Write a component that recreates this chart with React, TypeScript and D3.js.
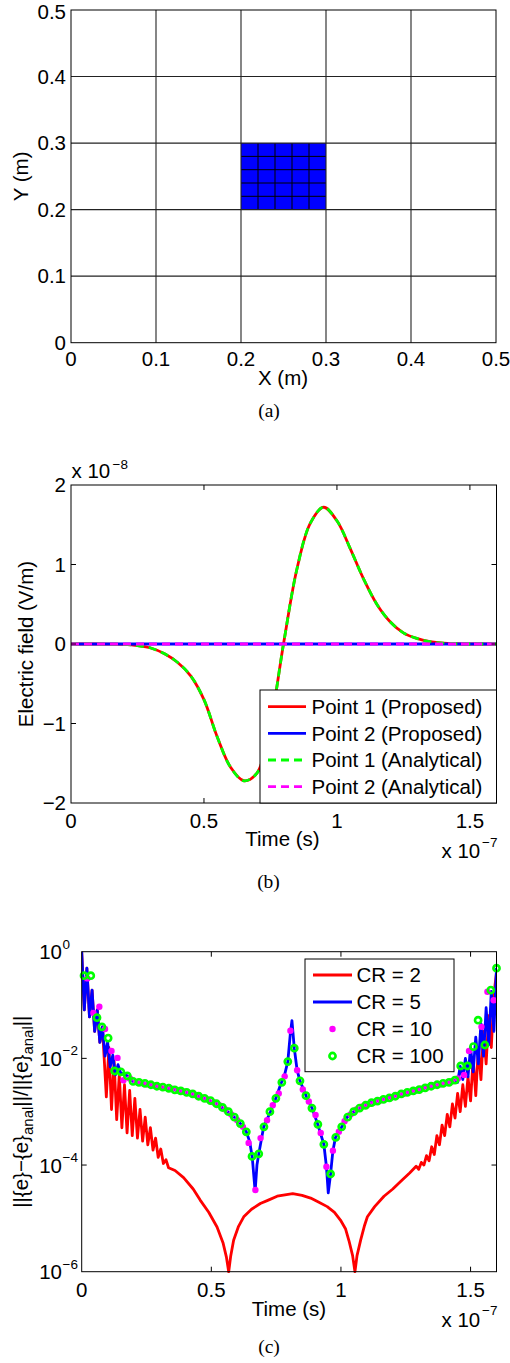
import React from 'react';
import * as d3 from 'd3';

// ---------------- (a) mesh ----------------
const meshTickValues = [0, 0.1, 0.2, 0.3, 0.4, 0.5];
const meshGridLines = [0.1, 0.2, 0.3, 0.4];
const fineMeshX = [0.2, 0.22, 0.24, 0.26, 0.28, 0.3];
const fineMeshY = [0.2, 0.22, 0.24, 0.26, 0.28, 0.3];

// ---------------- (b) electric field (time in 1e-7 s, field in 1e-8 V/m) ----------------
const fieldTime = [0, 0.05, 0.1, 0.15, 0.2, 0.25, 0.3, 0.35, 0.4, 0.45, 0.5, 0.55, 0.6, 0.65, 0.7, 0.75, 0.8,
  0.85, 0.9, 0.95, 1.0, 1.05, 1.1, 1.15, 1.2, 1.25, 1.3, 1.35, 1.4, 1.45, 1.5, 1.55, 1.6];
const point1Proposed = [0, 0, 0, -0.002, -0.005, -0.02, -0.05, -0.12, -0.23, -0.4, -0.7, -1.17, -1.55, -1.72, -1.62, -1.0, 0.02,
  0.95, 1.52, 1.72, 1.55, 1.2, 0.82, 0.5, 0.28, 0.14, 0.07, 0.03, 0.01, 0.003, 0, 0, 0];
const point2Proposed = [0, 0, 0, 0, 0, 0, 0, 0, 0, 0, 0, 0, 0, 0, 0, 0, 0,
  0, 0, 0, 0, 0, 0, 0, 0, 0, 0, 0, 0, 0, 0, 0, 0];
const point1Analytical = [0, 0, 0, -0.002, -0.005, -0.02, -0.05, -0.12, -0.23, -0.4, -0.7, -1.17, -1.55, -1.72, -1.62, -1.0, 0.02,
  0.95, 1.52, 1.72, 1.55, 1.2, 0.82, 0.5, 0.28, 0.14, 0.07, 0.03, 0.01, 0.003, 0, 0, 0];
const point2Analytical = [0, 0, 0, 0, 0, 0, 0, 0, 0, 0, 0, 0, 0, 0, 0, 0, 0,
  0, 0, 0, 0, 0, 0, 0, 0, 0, 0, 0, 0, 0, 0, 0, 0];
const fieldTimeTicks = [0, 0.5, 1, 1.5];
const fieldValueTicks = [-2, -1, 0, 1, 2];
const fieldLegend = ['Point 1 (Proposed)', 'Point 2 (Proposed)', 'Point 1 (Analytical)', 'Point 2 (Analytical)'];

// ---------------- (c) relative error (time in 1e-7 s) ----------------
const cr2Time = [0, 0.01, 0.02, 0.03, 0.04, 0.05, 0.06, 0.07, 0.08, 0.095, 0.105, 0.115, 0.125, 0.135, 0.145, 0.155,
  0.165, 0.175, 0.185, 0.195, 0.205, 0.215, 0.225, 0.235, 0.245, 0.255, 0.265, 0.275, 0.285, 0.295, 0.305, 0.315,
  0.325, 0.335, 0.36, 0.393, 0.43, 0.457, 0.49, 0.522, 0.545, 0.558, 0.567, 0.575, 0.586, 0.605, 0.625, 0.655,
  0.689, 0.72, 0.754, 0.79, 0.814, 0.85, 0.883, 0.915, 0.947, 0.975, 0.998, 1.018, 1.031, 1.045, 1.054, 1.062,
  1.076, 1.09, 1.102, 1.13, 1.166, 1.2, 1.23, 1.265, 1.29, 1.3, 1.31, 1.32, 1.33, 1.34, 1.35, 1.36, 1.37, 1.38,
  1.39, 1.4, 1.41, 1.42, 1.43, 1.44, 1.45, 1.46, 1.47, 1.48, 1.49, 1.5, 1.51, 1.52, 1.53, 1.54, 1.55, 1.56, 1.57,
  1.58, 1.59, 1.6];
const cr2Error = [1.0, 8.1e-2, 0.49, 6.0e-2, 0.19, 3.2e-2, 8.1e-2, 2.0e-2, 3.9e-2, 1.9e-3, 1.6e-2, 1.1e-3, 8.9e-3, 7.1e-4, 5.0e-3, 5.0e-4,
  3.2e-3, 4.0e-4, 2.5e-3, 3.55e-4, 1.78e-3, 3.2e-4, 1.1e-3, 2.8e-4, 7.9e-4, 2.4e-4, 5.0e-4, 1.9e-4, 3.2e-4, 1.4e-4, 2.0e-4, 1.07e-4,
  1.26e-4, 8.9e-5, 7.9e-5, 5.8e-5, 3.55e-5, 2.2e-5, 1.3e-5, 6.9e-6, 3.5e-6, 1.9e-6, 1.0e-6, 2.0e-6, 3.9e-6, 7.1e-6, 1.07e-5, 1.48e-5,
  1.9e-5, 2.2e-5, 2.6e-5, 2.8e-5, 2.9e-5, 2.7e-5, 2.4e-5, 2.0e-5, 1.66e-5, 1.3e-5, 9.3e-6, 6.3e-6, 3.8e-6, 2.0e-6, 1.0e-6, 2.0e-6,
  3.9e-6, 7.1e-6, 1.07e-5, 1.66e-5, 2.6e-5, 3.55e-5, 4.9e-5, 7.1e-5, 9.5e-5, 8.3e-5, 1.12e-4, 1.0e-4, 1.5e-4, 1.2e-4, 2.2e-4, 1.58e-4, 3.55e-4, 2.4e-4,
  5.6e-4, 3.55e-4, 8.9e-4, 5.2e-4, 1.4e-3, 7.6e-4, 2.2e-3, 1.0e-3, 3.2e-3, 1.26e-3, 4.5e-3, 1.6e-3, 1.0e-2, 2.0e-3, 1.6e-2, 4.0e-3, 3.2e-2, 7.9e-3, 6.3e-2,
  1.6e-2, 0.16, 0.4];

const cr5Time = [0, 0.01, 0.02, 0.03, 0.04, 0.05, 0.06, 0.07, 0.08, 0.09, 0.1, 0.11, 0.12, 0.13, 0.14, 0.15,
  0.176, 0.198, 0.22, 0.25, 0.3, 0.36, 0.42, 0.475, 0.52, 0.553, 0.586, 0.612, 0.635, 0.648, 0.658, 0.669,
  0.676, 0.683, 0.702, 0.728, 0.747, 0.767, 0.783, 0.795, 0.805, 0.811, 0.82, 0.831, 0.841, 0.867, 0.889, 0.908,
  0.934, 0.944, 0.951, 0.96, 0.969, 0.979, 1.005, 1.024, 1.05, 1.076, 1.114, 1.16, 1.205, 1.27, 1.334, 1.4, 1.443,
  1.45, 1.46, 1.47, 1.48, 1.49, 1.5, 1.51, 1.52, 1.53, 1.54, 1.55, 1.56, 1.57, 1.58, 1.59, 1.6];
const cr5Error = [1.0, 8.1e-2, 0.49, 6.0e-2, 0.19, 3.2e-2, 8.1e-2, 2.0e-2, 3.9e-2, 1.1e-2, 2.0e-2, 6.9e-3, 1.15e-2, 4.9e-3, 7.6e-3, 5.4e-3,
  4.7e-3, 3.7e-3, 3.55e-3, 3.3e-3, 2.95e-3, 2.57e-3, 2.2e-3, 1.78e-3, 1.41e-3, 1.1e-3, 8.1e-4, 6.0e-4, 4.2e-4, 2.75e-4, 1.38e-4, 3.2e-5,
  1.0e-4, 1.62e-4, 5.2e-4, 1.0e-3, 1.7e-3, 3.2e-3, 5.0e-3, 8.7e-3, 3.0e-2, 5.1e-2, 1.55e-2, 6.0e-3, 3.9e-3, 1.9e-3, 1.15e-3, 6.3e-4,
  2.45e-4, 9.3e-5, 3.0e-5, 6.8e-5, 1.86e-4, 3.3e-4, 5.4e-4, 7.9e-4, 1.0e-3, 1.2e-3, 1.48e-3, 1.7e-3, 1.95e-3, 2.4e-3, 2.9e-3, 3.4e-3, 3.9e-3,
  3.55e-3, 7.1e-3, 4.0e-3, 1.0e-2, 4.5e-3, 1.6e-2, 5.6e-3, 2.5e-2, 7.9e-3, 4.5e-2, 1.1e-2, 8.9e-2, 1.8e-2, 0.18, 3.2e-2, 0.5];

const cr10Time = [0.022, 0.045, 0.068, 0.09, 0.115, 0.138, 0.161, 0.186, 0.209, 0.232, 0.255, 0.278, 0.301, 0.324, 0.347,
  0.37, 0.393, 0.416, 0.439, 0.462, 0.485, 0.508, 0.531, 0.554, 0.577, 0.6, 0.622, 0.644, 0.67, 0.69, 0.715, 0.737,
  0.76, 0.783, 0.805, 0.831, 0.853, 0.876, 0.902, 0.922, 0.944, 0.969, 0.992, 1.014, 1.037, 1.06, 1.083, 1.106,
  1.129, 1.152, 1.175, 1.198, 1.221, 1.244, 1.267, 1.29, 1.313, 1.336, 1.359, 1.382, 1.405, 1.428, 1.451, 1.475,
  1.494, 1.542, 1.565, 1.589];
const cr10Error = [0.316, 7.1e-2, 9.3e-2, 3.55e-2, 1.38e-2, 1.02e-2, 3.9e-3, 4.2e-3, 3.6e-3, 3.45e-3, 3.25e-3, 3.1e-3, 2.95e-3, 2.8e-3, 2.7e-3,
  2.5e-3, 2.4e-3, 2.25e-3, 2.05e-3, 1.86e-3, 1.7e-3, 1.5e-3, 1.32e-3, 1.1e-3, 8.9e-4, 6.9e-4, 5.2e-4, 2.6e-4, 3.4e-5, 3.2e-4, 6.9e-4, 1.32e-3,
  2.2e-3, 4.6e-3, 3.3e-2, 6.0e-3, 2.6e-3, 1.55e-3, 8.7e-4, 4.0e-4, 9.3e-5, 1.86e-4, 4.2e-4, 6.6e-4, 8.9e-4, 1.1e-3, 1.26e-3, 1.38e-3,
  1.5e-3, 1.62e-3, 1.74e-3, 1.86e-3, 2.05e-3, 2.2e-3, 2.35e-3, 2.5e-3, 2.7e-3, 2.9e-3, 3.1e-3, 3.25e-3, 3.45e-3, 3.7e-3, 4.2e-3, 4.9e-3,
  1.38e-2, 3.9e-2, 0.178, 0.123];

const cr100Time = [0.009, 0.035, 0.059, 0.078, 0.102, 0.127, 0.151, 0.176, 0.198, 0.221, 0.244, 0.267, 0.29, 0.313, 0.336,
  0.359, 0.382, 0.405, 0.428, 0.451, 0.474, 0.497, 0.52, 0.543, 0.566, 0.589, 0.612, 0.635, 0.657, 0.683, 0.703,
  0.726, 0.749, 0.772, 0.795, 0.82, 0.842, 0.865, 0.888, 0.911, 0.934, 0.96, 0.98, 1.003, 1.026, 1.049, 1.072,
  1.095, 1.118, 1.141, 1.164, 1.187, 1.21, 1.233, 1.256, 1.279, 1.302, 1.325, 1.348, 1.371, 1.394, 1.417, 1.44,
  1.462, 1.488, 1.511, 1.529, 1.555, 1.578, 1.6];
const cr100Error = [0.355, 0.355, 5.8e-2, 3.9e-2, 2.4e-2, 5.8e-3, 5.6e-3, 4.7e-3, 3.7e-3, 3.55e-3, 3.4e-3, 3.2e-3, 3.0e-3, 2.9e-3, 2.75e-3,
  2.57e-3, 2.45e-3, 2.3e-3, 2.15e-3, 1.95e-3, 1.78e-3, 1.62e-3, 1.41e-3, 1.2e-3, 1.0e-3, 7.9e-4, 6.0e-4, 4.2e-4, 1.45e-4, 1.62e-4, 5.2e-4,
  1.0e-3, 1.78e-3, 3.55e-3, 8.7e-3, 1.55e-2, 3.8e-3, 2.0e-3, 1.17e-3, 5.8e-4, 2.45e-4, 6.8e-5, 3.3e-4, 5.2e-4, 7.9e-4, 1.0e-3, 1.17e-3,
  1.32e-3, 1.48e-3, 1.58e-3, 1.7e-3, 1.82e-3, 1.95e-3, 2.15e-3, 2.3e-3, 2.45e-3, 2.6e-3, 2.8e-3, 3.0e-3, 3.2e-3, 3.4e-3, 3.55e-3, 3.9e-3,
  7.2e-3, 7.2e-3, 1.66e-2, 5.2e-2, 1.78e-2, 0.19, 0.49];

const errTimeTicks = [0, 0.5, 1, 1.5];
const errTicks = [1, 1e-2, 1e-4, 1e-6];
const errTickExponents = ['0', '\u22122', '\u22124', '\u22126'];
const errLegend = ['CR = 2', 'CR = 5', 'CR = 10', 'CR = 100'];

// ---------------- styling ----------------
const SANS = '"Liberation Sans", Arial, Helvetica, sans-serif';
const SERIF = '"Liberation Serif", "Times New Roman", serif';
const FS = 20.5;
const SUP = 13.5;
const RED = '#ff0000';
const BLUE = '#0000ff';
const GREEN = '#00ff00';
const MAGENTA = '#ff00ff';
const LW = 2.8;

const fmtSigned = (v: number) => (v < 0 ? '\u2212' + Math.abs(v) : String(v));

function PanelA() {
  const x = d3.scaleLinear().domain([0, 0.5]).range([71, 496]);
  const y = d3.scaleLinear().domain([0, 0.5]).range([342.7, 10]);
  return (
    <g>
      <rect x={x(fineMeshX[0])} y={y(fineMeshY[fineMeshY.length - 1])}
        width={x(fineMeshX[fineMeshX.length - 1]) - x(fineMeshX[0])}
        height={y(fineMeshY[0]) - y(fineMeshY[fineMeshY.length - 1])} fill={BLUE} />
      {fineMeshX.slice(1, -1).map((v) => (
        <line key={'fx' + v} x1={x(v)} x2={x(v)} y1={y(fineMeshY[0])} y2={y(fineMeshY[fineMeshY.length - 1])} stroke="#000" strokeWidth={1} />
      ))}
      {fineMeshY.slice(1, -1).map((v) => (
        <line key={'fy' + v} y1={y(v)} y2={y(v)} x1={x(fineMeshX[0])} x2={x(fineMeshX[fineMeshX.length - 1])} stroke="#000" strokeWidth={1} />
      ))}
      {meshGridLines.map((v) => (
        <g key={'g' + v}>
          <line x1={x(v)} x2={x(v)} y1={y(0)} y2={y(0.5)} stroke="#222" strokeWidth={1.1} />
          <line y1={y(v)} y2={y(v)} x1={x(0)} x2={x(0.5)} stroke="#222" strokeWidth={1.1} />
        </g>
      ))}
      <rect x={x(0)} y={y(0.5)} width={x(0.5) - x(0)} height={y(0) - y(0.5)} fill="none" stroke="#000" strokeWidth={1} />
      {meshTickValues.map((v) => (
        <text key={'ty' + v} x={66} y={Math.max(y(v) + 7.3, 18.5)} textAnchor="end" fontFamily={SANS} fontSize={FS}>{String(v)}</text>
      ))}
      {meshTickValues.map((v) => (
        <text key={'tx' + v} x={x(v)} y={366} textAnchor="middle" fontFamily={SANS} fontSize={FS}>{String(v)}</text>
      ))}
      <text x={283} y={385} textAnchor="middle" fontFamily={SANS} fontSize={FS}>X (m)</text>
      <text transform={`translate(27.5,${(y(0) + y(0.5)) / 2}) rotate(-90)`} textAnchor="middle" fontFamily={SANS} fontSize={FS}>Y (m)</text>
      <text x={269} y={417} textAnchor="middle" fontFamily={SERIF} fontSize={19.5}>(a)</text>
    </g>
  );
}

function PanelB() {
  const x = d3.scaleLinear().domain([0, 1.6]).range([71, 496.5]);
  const y = d3.scaleLinear().domain([-2, 2]).range([803, 485]);
  const mk = (vals: number[]) =>
    d3.line<number>().x((_, i) => x(fieldTime[i])).y((d) => y(d)).curve(d3.curveCatmullRom)(vals) || '';
  const legendRows = [706.7, 733.3, 760, 786.7];
  const legendStyles = [
    { c: RED, dash: undefined },
    { c: BLUE, dash: undefined },
    { c: GREEN, dash: '8,5' },
    { c: MAGENTA, dash: '8,5' },
  ];
  const tl = 5;
  return (
    <g>
      <defs>
        <clipPath id="clipB"><rect x={71} y={485} width={425.5} height={318} /></clipPath>
      </defs>
      <g clipPath="url(#clipB)" fill="none" strokeWidth={LW}>
        <path d={mk(point1Proposed)} stroke={RED} />
        <path d={mk(point2Proposed)} stroke={BLUE} />
        <path d={mk(point1Analytical)} stroke={GREEN} strokeDasharray="8,5" />
        <path d={mk(point2Analytical)} stroke={MAGENTA} strokeDasharray="8,5" />
      </g>
      <rect x={71} y={485} width={425.5} height={318} fill="none" stroke="#000" strokeWidth={1} />
      {fieldTimeTicks.filter((v) => v > 0).map((v) => (
        <g key={'bt' + v}>
          <line x1={x(v)} x2={x(v)} y1={803} y2={803 - tl} stroke="#000" />
          <line x1={x(v)} x2={x(v)} y1={485} y2={485 + tl} stroke="#000" />
        </g>
      ))}
      {fieldValueTicks.filter((v) => v > -2 && v < 2).map((v) => (
        <g key={'bv' + v}>
          <line x1={71} x2={71 + tl} y1={y(v)} y2={y(v)} stroke="#000" />
          <line x1={496.5} x2={496.5 - tl} y1={y(v)} y2={y(v)} stroke="#000" />
        </g>
      ))}
      {fieldTimeTicks.map((v) => (
        <text key={'btl' + v} x={x(v)} y={828} textAnchor="middle" fontFamily={SANS} fontSize={FS}>{String(v)}</text>
      ))}
      {fieldValueTicks.map((v) => (
        <text key={'bvl' + v} x={66} y={y(v) + 7.3} textAnchor="end" fontFamily={SANS} fontSize={FS}>{fmtSigned(v)}</text>
      ))}
      <text x={71.5} y={478} fontFamily={SANS} fontSize={FS}>x 10</text>
      <text x={112.5} y={469} fontFamily={SANS} fontSize={SUP}>{'\u22128'}</text>
      <text x={282.5} y={846} textAnchor="middle" fontFamily={SANS} fontSize={FS}>Time (s)</text>
      <text x={441.5} y={858} fontFamily={SANS} fontSize={FS}>x 10</text>
      <text x={482} y={847} fontFamily={SANS} fontSize={SUP}>{'\u22127'}</text>
      <text transform={`translate(33,644) rotate(-90)`} textAnchor="middle" fontFamily={SANS} fontSize={FS}>Electric field (V/m)</text>
      <rect x={260} y={690} width={236.5} height={113} fill="#fff" stroke="#000" strokeWidth={1} />
      {fieldLegend.map((label, i) => (
        <g key={label}>
          <line x1={268} x2={306} y1={legendRows[i]} y2={legendRows[i]} stroke={legendStyles[i].c} strokeWidth={LW}
            strokeDasharray={legendStyles[i].dash} />
          <text x={311.5} y={legendRows[i] + 7.3} fontFamily={SANS} fontSize={FS}>{label}</text>
        </g>
      ))}
      <text x={268.5} y={888} textAnchor="middle" fontFamily={SERIF} fontSize={19.5}>(b)</text>
    </g>
  );
}

function PanelC() {
  const L = 81.7, R = 496.5, T = 951.7, B = 1271.7;
  const x = d3.scaleLinear().domain([0, 1.6]).range([L, R]);
  const y = d3.scaleLog().domain([1e-6, 1]).range([B, T]);
  const mk = (ts: number[], vs: number[]) =>
    d3.line<[number, number]>().x((d) => x(d[0])).y((d) => y(d[1]))(d3.zip(ts, vs) as [number, number][]) || '';
  const tl = 5;
  const legendRows = [975, 1002, 1029, 1056];
  return (
    <g>
      <defs>
        <clipPath id="clipC"><rect x={L} y={T - 2} width={R - L} height={B - T + 4} /></clipPath>
      </defs>
      <g clipPath="url(#clipC)" fill="none" strokeWidth={LW} strokeLinejoin="round">
        <path d={mk(cr2Time, cr2Error)} stroke={RED} />
        <path d={mk(cr5Time, cr5Error)} stroke={BLUE} />
      </g>
      {cr10Time.map((t, i) => (
        <circle key={'m' + i} cx={x(t)} cy={y(cr10Error[i])} r={3.2} fill={MAGENTA} />
      ))}
      {cr100Time.map((t, i) => (
        <circle key={'g' + i} cx={x(t)} cy={y(cr100Error[i])} r={3.1} fill="none" stroke={GREEN} strokeWidth={2.6} />
      ))}
      <rect x={L} y={T} width={R - L} height={B - T} fill="none" stroke="#000" strokeWidth={1} />
      {errTimeTicks.filter((v) => v > 0).map((v) => (
        <g key={'ct' + v}>
          <line x1={x(v)} x2={x(v)} y1={B} y2={B - tl} stroke="#000" />
          <line x1={x(v)} x2={x(v)} y1={T} y2={T + tl} stroke="#000" />
        </g>
      ))}
      {errTicks.filter((v) => v < 1 && v > 1e-6).map((v) => (
        <g key={'cv' + v}>
          <line x1={L} x2={L + tl} y1={y(v)} y2={y(v)} stroke="#000" />
          <line x1={R} x2={R - tl} y1={y(v)} y2={y(v)} stroke="#000" />
        </g>
      ))}
      {errTimeTicks.map((v) => (
        <text key={'ctl' + v} x={x(v)} y={1296.5} textAnchor="middle" fontFamily={SANS} fontSize={FS}>{String(v)}</text>
      ))}
      {errTicks.map((v, i) => (
        <g key={'cvl' + v}>
          <text x={62} y={y(v) + 7.5} textAnchor="end" fontFamily={SANS} fontSize={FS}>10</text>
          <text x={62.5} y={y(v) - 3} fontFamily={SANS} fontSize={SUP}>{errTickExponents[i]}</text>
        </g>
      ))}
      <text x={289} y={1316} textAnchor="middle" fontFamily={SANS} fontSize={FS}>Time (s)</text>
      <text x={441.5} y={1327} fontFamily={SANS} fontSize={FS}>x 10</text>
      <text x={482} y={1315} fontFamily={SANS} fontSize={SUP}>{'\u22127'}</text>
      <text transform={`translate(28,${(T + B) / 2}) rotate(-90)`} textAnchor="middle" fontFamily={SANS} fontSize={FS}>
        <tspan>{'||{e}\u2212{e}'}</tspan>
        <tspan fontSize={15} dy={5}>anal</tspan>
        <tspan dy={-5}>{'||/||{e}'}</tspan>
        <tspan fontSize={15} dy={5}>anal</tspan>
        <tspan dy={-5}>||</tspan>
      </text>
      <rect x={305} y={959} width={149} height={112.7} fill="#fff" stroke="#000" strokeWidth={1} />
      <line x1={313} x2={352} y1={legendRows[0]} y2={legendRows[0]} stroke={RED} strokeWidth={LW} />
      <line x1={313} x2={352} y1={legendRows[1]} y2={legendRows[1]} stroke={BLUE} strokeWidth={LW} />
      <circle cx={332.5} cy={legendRows[2]} r={3.2} fill={MAGENTA} />
      <circle cx={332.5} cy={legendRows[3]} r={3.1} fill="none" stroke={GREEN} strokeWidth={2.6} />
      {errLegend.map((label, i) => (
        <text key={label} x={356.5} y={legendRows[i] + 7.3} fontFamily={SANS} fontSize={FS}>{label}</text>
      ))}
      <text x={269} y={1353} textAnchor="middle" fontFamily={SERIF} fontSize={19.5}>(c)</text>
    </g>
  );
}

export default function App() {
  return (
    <svg width={510} height={1363} viewBox="0 0 510 1363"
      style={{ position: 'absolute', left: 0, top: 0, background: '#fff', display: 'block' }}>
      <rect x={0} y={0} width={510} height={1363} fill="#fff" />
      <PanelA />
      <PanelB />
      <PanelC />
    </svg>
  );
}
